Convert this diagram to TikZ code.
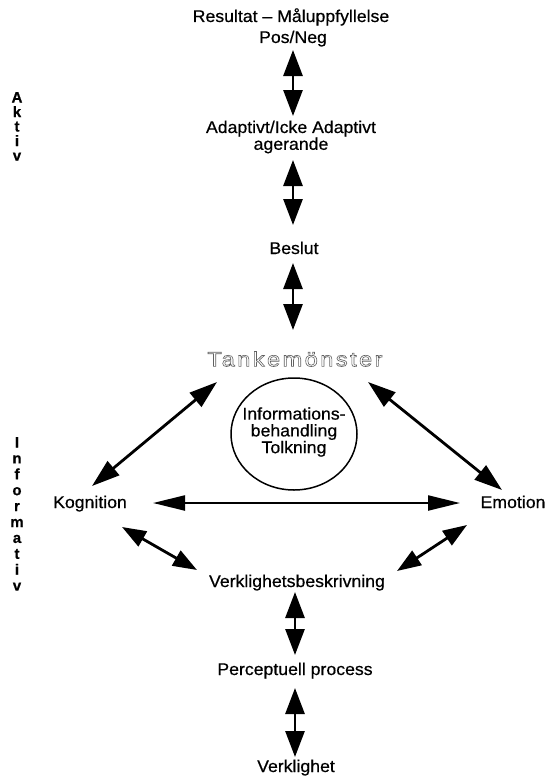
\documentclass[tikz,border=0pt]{standalone}
\usepackage{fontspec}
\setmainfont[FakeStretch=1.04,FakeBold=0.5]{Liberation Sans}
\newfontfamily\tankfont[FakeStretch=1.15,LetterSpace=12,FakeBold=3]{Liberation Sans}
\newfontfamily\sidefont[FakeBold=0.6]{Liberation Sans}
\usetikzlibrary{arrows.meta,calc,shapes.geometric}
\begin{document}
\begin{tikzpicture}[x=1pt,y=-1pt,
  lbl/.style={font=\fontsize{17}{17}\selectfont, inner sep=0pt, text height=12pt, text depth=4pt},
  lbl2/.style={font=\fontsize{17}{16.8}\selectfont, inner sep=0pt, align=center},
  side/.style={font=\sidefont\bfseries\fontsize{15}{15}\selectfont, inner sep=0pt, text height=11pt, text depth=0pt},
  tankstyle/.style={font=\tankfont\fontsize{20.5}{20.5}\selectfont, inner sep=0pt},
  varrow/.style={line width=2.8pt, {Triangle[length=26pt,width=19pt]}-{Triangle[length=26pt,width=19pt]}},
  darrow/.style={line width=2.8pt, {Triangle[length=28pt,width=18pt]}-{Triangle[length=28pt,width=18pt]}},
  sarrow/.style={line width=2.8pt, {Triangle[length=24pt,width=17pt]}-{Triangle[length=24pt,width=17pt]}},
  harrow/.style={line width=2.2pt, {Triangle[length=32pt,width=15pt]}-{Triangle[length=32pt,width=15pt]}}
]
\useasboundingbox[fill=white] (0,0) rectangle (545,776);

% side labels
\foreach \ch [count=\i] in {A,k,t,i,v}
  \node[side] (akt\i) at (17, 97+14.5*\i-14.5) {\ch};
\foreach \ch [count=\i] in {I,n,f,o,r,m,a,t,i,v}
  \node[side] (inf\i) at (17, 442+15.9*\i-15.9) {\ch};

% text nodes
\node[lbl] (res) at (291,18) {Resultat -- Måluppfyllelse};
\node[lbl] (posneg) at (293,39) {Pos/Neg};
\node[lbl2] (adapt) at (291,137) {Adaptivt/Icke Adaptivt\\agerande};
\node[lbl] (beslut) at (294,250) {Beslut};

\node[tankstyle, text=black!62] (tank) at (295,359) {\special{pdf:literal direct 1 g}Tankemönster};

\node[draw, line width=1.5pt, ellipse, minimum width=126, minimum height=112, inner sep=0pt] (info) at (294,434) {};
\node[lbl2] (infotxt) at ($(info)+(0,-2)$) {Informations-\\behandling\\Tolkning};

\node[lbl] (kog) at (90,504) {Kognition};
\node[lbl] (emo) at (513,504) {Emotion};
\node[lbl] (verk) at (297,583) {Verklighetsbeskrivning};
\node[lbl] (perc) at (295,671) {Perceptuell process};
\node[lbl] (verkl) at (296,768) {Verklighet};

% vertical arrows
\draw[varrow] ($(posneg)+(0,11)$) -- ($(adapt)+(2,-21)$);
\draw[varrow] ($(adapt)+(2,23)$) -- ($(beslut)+(-1,-25)$);
\draw[varrow] ($(beslut)+(-1,13)$) -- ($(tank)+(-2,-29)$);
\draw[varrow] ($(verk)+(-2,9)$) -- ($(perc)+(0,-16)$);
\draw[varrow] ($(perc)+(0,17)$) -- ($(verkl)+(-1,-11)$);

% triangle arrows
\draw[darrow] ($(tank)+(-78,23)$) -- ($(kog)+(2,-18)$);
\draw[darrow] ($(tank)+(73,23)$) -- ($(emo)+(-11,-14)$);
\draw[harrow] ($(kog)+(63,-1)$) -- ($(emo)+(-53,-1)$);
\draw[sarrow] ($(kog)+(32,23)$) -- ($(verk)+(-100,-13)$);
\draw[sarrow] ($(emo)+(-46,21)$) -- ($(verk)+(100,-12)$);
\end{tikzpicture}
\end{document}
